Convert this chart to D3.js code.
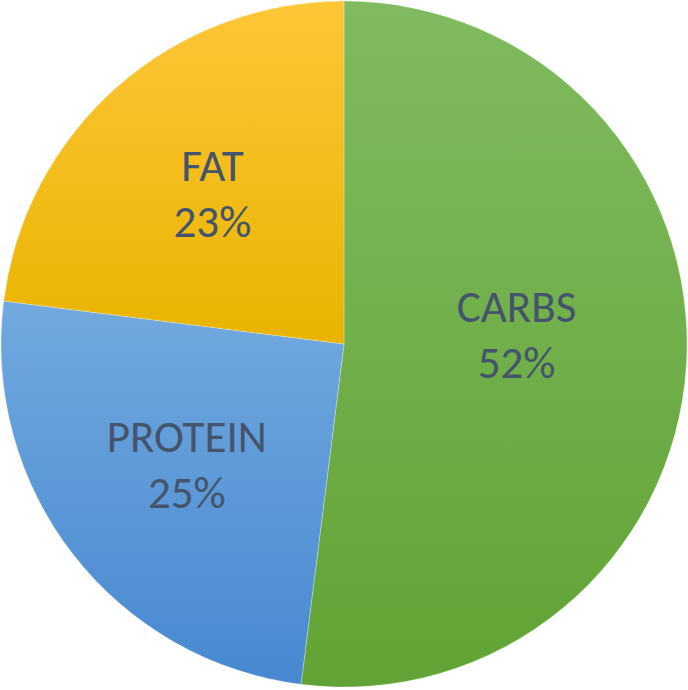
<!DOCTYPE html>
<html><head><meta charset="utf-8">
<script src="https://cdn.jsdelivr.net/npm/d3@7"></script>
<style>html,body{margin:0;padding:0;background:#fff;}svg{display:block;}</style>
</head><body>
<svg id="chart" width="688" height="690"></svg>
<script>
const categories = ["CARBS", "PROTEIN", "FAT"];
const values = [52, 25, 23];
const percentLabels = ["52%", "25%", "23%"];
const colorTop = ["#80bb60", "#72a9df", "#ffc638"];
const colorBottom = ["#61a334", "#4788d1", "#e8b400"];

const W = 688, H = 690, cx = 344, cy = 344, R = 343;
const svg = d3.select("#chart");
const defs = svg.append("defs");
categories.forEach((c, i) => {
  const g = defs.append("linearGradient").attr("id", "g" + i)
    .attr("x1", 0).attr("y1", 0).attr("x2", 0).attr("y2", 1);
  g.append("stop").attr("offset", "0%").attr("stop-color", colorTop[i]);
  g.append("stop").attr("offset", "100%").attr("stop-color", colorBottom[i]);
});

const data = categories.map((c, i) => ({cat: c, value: values[i], pct: percentLabels[i], i}));
const pie = d3.pie().value(d => d.value).sort(null);
const arcs = pie(data);
const arc = d3.arc().innerRadius(0).outerRadius(R);
const labelArc = d3.arc().innerRadius(R * 0.58).outerRadius(R * 0.58);

const g = svg.append("g").attr("transform", `translate(${cx},${cy})`);
g.selectAll("path").data(arcs).enter().append("path")
  .attr("d", arc)
  .attr("fill", d => `url(#g${d.data.i})`)
  .attr("stroke", "rgba(255,255,255,0.35)")
  .attr("stroke-width", 0.8);

// Excel "best fit" nudges the large slice's label inward
const nudge = [[-26, -20], [0, 0], [0, 0]];
const lab = g.selectAll("g.lab").data(arcs).enter().append("g").attr("class", "lab")
  .attr("transform", d => {
    const [x, y] = labelArc.centroid(d);
    const n = nudge[d.data.i];
    return `translate(${x + n[0]},${y + n[1]})`;
  });
lab.append("text").attr("text-anchor", "middle").attr("y", -14)
  .attr("font-family", "Carlito, Calibri, Lato, sans-serif").attr("font-size", 45)
  .attr("fill", "#44546a").text(d => d.data.cat);
lab.append("text").attr("text-anchor", "middle").attr("y", 42)
  .attr("font-family", "Carlito, Calibri, Lato, sans-serif").attr("font-size", 45)
  .attr("fill", "#44546a").text(d => d.data.pct);
</script>
</body></html>
